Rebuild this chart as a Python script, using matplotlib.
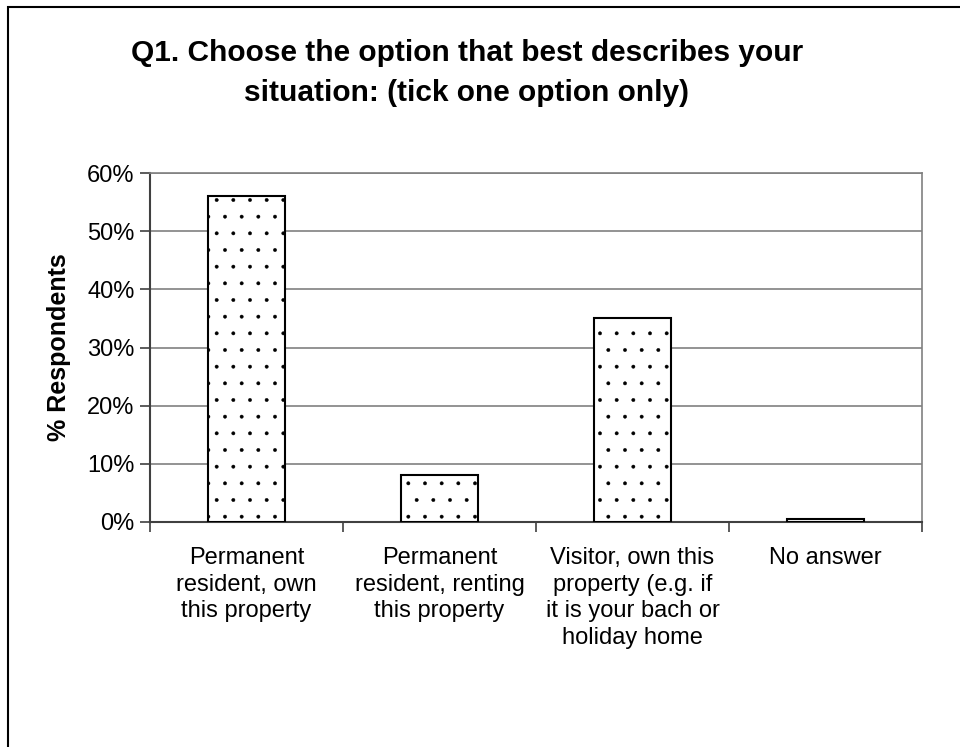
import matplotlib.pyplot as plt
from matplotlib.patches import Rectangle
from matplotlib.ticker import PercentFormatter, FixedLocator

plt.rcParams['font.family'] = ['Liberation Sans', 'DejaVu Sans']
plt.rcParams['hatch.linewidth'] = 0.3
plt.rcParams['hatch.color'] = '#202020'

categorias = ["Permanent\nresident, own\nthis property",
              "Permanent\nresident, renting\nthis property",
              "Visitor, own this\nproperty (e.g. if\nit is your bach or\nholiday home",
              "No answer"]
porcentajes = [56, 8, 35, 0.5]
yticks = [0, 10, 20, 30, 40, 50, 60]

fig = plt.figure(figsize=(9.6, 7.47), dpi=100)
ax = fig.add_axes([150/960, 1 - 522/747, 772/960, 349/747])

x = range(len(categorias))
ax.bar(x, porcentajes, width=0.40, color='white', edgecolor='black',
       linewidth=1.5, hatch='.', zorder=3)

ax.set_xlim(-0.5, len(categorias) - 0.5)
ax.set_ylim(0, 60)
ax.set_yticks(yticks)
ax.yaxis.set_major_formatter(PercentFormatter(decimals=0))
ax.yaxis.grid(True, color='#808080', linewidth=1.2, zorder=0)
ax.set_xticks(list(x))
ax.set_xticklabels(categorias, fontsize=17, linespacing=1.27, va='top')
ax.xaxis.set_minor_locator(FixedLocator([-0.5, 0.5, 1.5, 2.5, 3.5]))
ax.tick_params(axis='x', which='major', length=0, pad=18)
ax.tick_params(axis='x', which='minor', length=7, width=1.2, color='#404040')
ax.tick_params(axis='y', length=7, width=1.2, color='#404040', labelsize=17, pad=4)
for s in ['top', 'right']:
    ax.spines[s].set_color('#808080')
    ax.spines[s].set_linewidth(1.2)
for s in ['left', 'bottom']:
    ax.spines[s].set_color('#404040')
    ax.spines[s].set_linewidth(1.5)
ax.set_ylabel("% Respondents", fontsize=18, fontweight='bold', labelpad=12)

fig.text(467/960, 1 - 61/747, "Q1. Choose the option that best describes your",
         ha='center', va='baseline', fontsize=21.5, fontweight='bold')
fig.text(467/960, 1 - 101/747, "situation: (tick one option only)",
         ha='center', va='baseline', fontsize=21.5, fontweight='bold')

# marco del area del grafico
fig.patches.append(Rectangle((8/960, -0.1), 1.2, 1 - 7/747 + 0.1,
                             transform=fig.transFigure, fill=False,
                             edgecolor='black', linewidth=1.5))

fig.savefig("out.png", dpi=100)
